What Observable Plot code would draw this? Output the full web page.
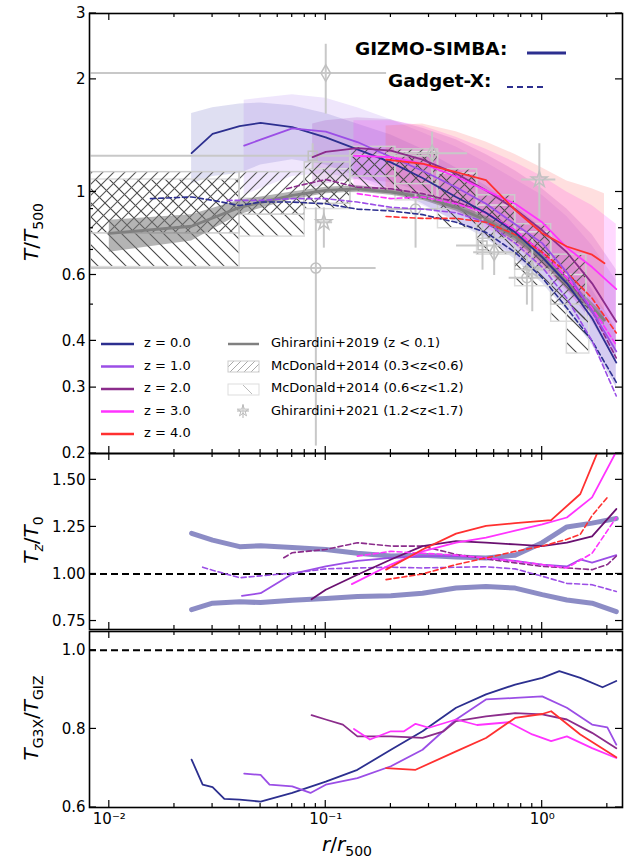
<!DOCTYPE html>
<html><head><meta charset="utf-8">
<script src="https://cdn.jsdelivr.net/npm/d3@7"></script>
<script src="https://cdn.jsdelivr.net/npm/@observablehq/plot@0.6"></script>
<style>
body{margin:0;background:#fff;font-family:"DejaVu Sans",sans-serif}
#c{position:relative;width:626px;height:864px}
#c svg{position:absolute;left:0;overflow:visible}
.t{position:absolute;white-space:nowrap;color:#000}
.lg{font-size:13px}
.yl{font-size:20px;transform:translate(-50%,-50%) rotate(-90deg);}
</style></head><body><div id="c"></div>
<script>
const colors=["#2c2f8f","#9b4ee6","#8b2c8b","#ff33ff","#ff3030"];
const bandColors=["#6060c0","#b080f0","#a040c0","#ff40ff","#ff6060"];
// top panel: GIZMO-SIMBA (solid) with bands
const gR=[[0.024,0.03,0.04,0.05,0.07,0.1,0.14,0.2,0.28,0.4,0.55,0.75,1,1.3,1.7,2.2],
[0.042,0.05,0.07,0.1,0.14,0.2,0.28,0.4,0.55,0.75,1,1.3,1.7,2.2],
[0.087,0.1,0.14,0.2,0.28,0.4,0.55,0.75,1,1.3,1.7,2.2],
[0.135,0.2,0.28,0.4,0.55,0.75,1,1.3,1.7,2.2],
[0.19,0.28,0.4,0.55,0.75,1,1.3,1.7,1.94]];
const gT=[[1.27,1.43,1.50,1.53,1.49,1.40,1.30,1.20,1.09,0.97,0.88,0.78,0.67,0.57,0.46,0.35],
[1.33,1.38,1.48,1.45,1.36,1.24,1.14,1.03,0.93,0.82,0.73,0.61,0.48,0.375],
[1.24,1.28,1.31,1.29,1.22,1.12,1.01,0.90,0.79,0.69,0.57,0.45],
[1.25,1.24,1.19,1.10,1.01,0.93,0.83,0.71,0.63,0.55],
[1.22,1.19,1.13,1.076,0.895,0.776,0.715,0.68,0.645]];
const gHi=[[1.62,1.68,1.72,1.73,1.70,1.62,1.52,1.42,1.30,1.16,1.04,0.92,0.80,0.68,0.55,0.43],
[1.76,1.78,1.82,1.78,1.68,1.56,1.44,1.32,1.20,1.08,0.98,0.86,0.72,0.58],
[1.52,1.55,1.58,1.56,1.48,1.38,1.26,1.14,1.02,0.90,0.77,0.62],
[1.55,1.55,1.50,1.40,1.30,1.20,1.10,1.00,0.92,0.82],
[1.50,1.52,1.45,1.36,1.26,1.16,1.07,1.02,0.99]];
const gLo=[[1.05,1.10,1.12,1.18,1.22,1.18,1.10,1.02,0.93,0.83,0.75,0.66,0.57,0.48,0.39,0.30],
[0.98,1.02,1.10,1.12,1.08,1.00,0.92,0.84,0.76,0.67,0.59,0.50,0.40,0.30],
[1.02,1.05,1.08,1.06,1.00,0.92,0.83,0.74,0.64,0.55,0.45,0.35],
[1.02,1.00,0.96,0.88,0.80,0.73,0.64,0.54,0.46,0.38],
[1.00,0.99,0.92,0.83,0.72,0.62,0.56,0.52,0.48]];
// Gadget-X (dashed)
const xR=[[0.0155,0.024,0.03,0.04,0.05,0.07,0.1,0.14,0.2,0.28,0.4,0.55,0.75,1,1.3,1.7,2.2],
[0.035,0.05,0.07,0.1,0.14,0.2,0.28,0.4,0.55,0.75,1,1.3,1.7,2.2],
[0.066,0.07,0.1,0.14,0.2,0.28,0.4,0.55,0.75,1,1.3,1.7,2.2],
[0.14,0.2,0.28,0.4,0.55,0.75,1,1.3,1.7,2.2],
[0.19,0.28,0.4,0.55,0.75,1,1.3,1.7,2.2]];
const xT=[[0.96,0.97,0.95,0.92,0.94,0.94,0.93,0.90,0.89,0.87,0.83,0.78,0.69,0.59,0.49,0.40,0.31],
[0.95,0.95,0.96,0.96,0.94,0.91,0.90,0.88,0.83,0.73,0.63,0.52,0.40,0.285],
[1.02,1.03,1.08,1.03,1.02,0.99,0.94,0.88,0.79,0.69,0.59,0.48,0.36],
[0.99,0.96,0.97,0.93,0.88,0.79,0.69,0.59,0.49,0.39],
[0.86,0.85,0.85,0.83,0.77,0.69,0.61,0.52,0.42]];
// Ghirardini+2019
const ghR=[0.01,0.024,0.04,0.07,0.1,0.14,0.2,0.28,0.4,0.55,0.75,1,1.3,1.94];
const ghT=[0.775,0.81,0.91,0.98,1.01,1.02,1.0,0.97,0.91,0.84,0.76,0.67,0.57,0.455];
const ghLo=[0.69,0.74,0.87,0.955,0.99,1.0,0.98,0.95,0.89,0.82,0.74,0.65,0.55,0.44];
const ghHi=[0.84,0.87,0.95,1.0,1.03,1.04,1.02,0.99,0.93,0.86,0.78,0.69,0.59,0.47];
// McDonald+2014 boxes [r1,r2,T1,T2]
const mcA=[[0.0082,0.040,0.775,1.13],[0.040,0.080,0.87,1.13],[0.080,0.13,0.93,1.20],[0.13,0.21,1.10,1.32],[0.21,0.33,1.05,1.30],[0.33,0.5,0.90,1.15],[0.5,0.75,0.75,0.98],[0.75,1.1,0.62,0.82],[1.1,1.6,0.5,0.68]];
const mcB=[[0.0082,0.040,0.63,1.08],[0.040,0.080,0.76,0.96],[0.080,0.13,0.90,1.15],[0.13,0.21,1.0,1.25],[0.21,0.33,0.95,1.28],[0.33,0.5,0.80,1.12],[0.5,0.75,0.68,0.92],[0.75,1.1,0.56,0.78],[1.1,1.6,0.45,0.60],[1.3,1.65,0.37,0.50]];
// Ghirardini+2021 [symbol,r,T,rlo,rhi,Tlo,Thi]
const gh21=[["diamond",0.1,2.08,0.0082,0.19,1.62,2.49],["square",0.087,1.25,0.0082,0.3,1.15,1.35],["circle",0.09,0.626,0.0082,0.17,0.21,0.91],["star",0.098,0.83,0.09,0.107,0.71,0.91],["circle",0.26,0.90,0.19,0.33,0.71,1.0],["diamond",0.31,1.27,0.19,0.45,0.95,1.45],["star",0.97,1.08,0.8,1.15,0.85,1.35],["diamond",0.6,0.69,0.48,0.75,0.6,0.8],["square",0.53,0.72,0.4,0.65,0.62,0.85],["circle",0.85,0.59,0.7,1.0,0.5,0.68],["star",0.9,0.62,0.8,1.05,0.48,0.75]];
// middle panel Tz/T0
const envR=[0.024,0.03,0.04,0.05,0.07,0.1,0.14,0.2,0.28,0.4,0.55,0.75,1,1.3,1.7,2.2];
const envHi=[1.216,1.18,1.145,1.15,1.14,1.13,1.11,1.095,1.10,1.09,1.085,1.10,1.166,1.25,1.27,1.295];
const envLo=[0.81,0.845,0.853,0.848,0.86,0.87,0.88,0.884,0.898,0.925,0.934,0.925,0.89,0.862,0.845,0.80];
const mR=[null,[0.041,0.05,0.07,0.1,0.14,0.2,0.28,0.4,0.55,0.75,1,1.3,1.5,1.7,2.2],
[0.086,0.1,0.14,0.2,0.28,0.4,0.55,0.75,1,1.3,1.7,2.2],
[0.132,0.2,0.28,0.4,0.55,0.75,1,1.3,1.7,2.2],
[0.19,0.28,0.4,0.55,0.75,1,1.1,1.5,1.8]];
const mV=[null,[0.884,0.898,1.0,1.04,1.07,1.085,1.095,1.095,1.085,1.07,1.05,1.04,1.077,1.06,1.10],
[0.866,0.916,0.996,1.077,1.148,1.175,1.166,1.157,1.148,1.166,1.20,1.345],
[0.946,1.05,1.12,1.166,1.193,1.23,1.264,1.30,1.407,1.65],
[1.023,1.13,1.214,1.255,1.27,1.282,1.286,1.425,1.645]];
const mdR=[null,[0.027,0.03,0.04,0.05,0.07,0.1,0.14,0.2,0.28,0.4,0.55,0.75,1,1.3,1.7,2.2],
[0.064,0.07,0.1,0.14,0.2,0.28,0.4,0.55,0.75,1,1.3,1.7,2.0,2.2],
[0.14,0.2,0.28,0.4,0.55,0.75,1,1.3,1.7,2.2],
[0.19,0.28,0.4,0.55,0.75,1,1.3,1.5,1.7,2.0]];
const mdV=[null,[1.036,1.02,0.98,0.99,1.005,1.027,1.032,1.036,1.032,1.036,1.038,1.027,0.988,0.95,0.943,0.907],
[1.086,1.113,1.13,1.166,1.148,1.148,1.104,1.08,1.059,1.04,1.032,1.023,1.05,1.095],
[1.095,1.12,1.11,1.10,1.085,1.068,1.05,1.032,1.11,1.30],
[0.97,1.0,1.05,1.085,1.12,1.148,1.184,1.21,1.31,1.407]];
// bottom panel TG3X/TGIZ
const bR=[[0.024,0.027,0.03,0.034,0.04,0.05,0.07,0.1,0.14,0.2,0.28,0.4,0.55,0.75,1.0,1.2,1.5,1.9,2.2],
[0.042,0.05,0.055,0.07,0.085,0.1,0.14,0.2,0.28,0.4,0.55,0.75,1.0,1.3,1.7,2.0,2.2],
[0.086,0.1,0.12,0.14,0.2,0.28,0.35,0.4,0.55,0.75,1.0,1.3,1.7,2.2],
[0.135,0.16,0.2,0.23,0.26,0.3,0.4,0.5,0.7,0.9,1.1,1.3,1.7,2.2],
[0.19,0.26,0.4,0.55,0.75,1.0,1.1,1.5,2.2]];
const bV=[[0.722,0.658,0.652,0.622,0.62,0.615,0.637,0.666,0.696,0.747,0.794,0.854,0.888,0.913,0.93,0.947,0.93,0.906,0.922],
[0.686,0.683,0.658,0.654,0.637,0.658,0.675,0.705,0.747,0.824,0.875,0.879,0.883,0.854,0.811,0.804,0.76],
[0.835,0.824,0.811,0.781,0.781,0.777,0.794,0.82,0.832,0.84,0.837,0.824,0.79,0.751],
[0.80,0.773,0.794,0.794,0.813,0.803,0.824,0.81,0.817,0.786,0.769,0.781,0.751,0.726],
[0.70,0.696,0.743,0.777,0.828,0.838,0.845,0.786,0.728]];
const zLabels=["z = 0.0","z = 1.0","z = 2.0","z = 3.0","z = 4.0"];

const rows=(rs,vs,extra={})=>rs.map((r,i)=>({r,v:vs[i],...extra}));
const X={type:"log",domain:[0.0081,2.35]};
const W=626,ML=89,MR=4;
const sup={"-":"⁻","0":"⁰","1":"¹","2":"²"};
const xfmt=d=>"10"+String(Math.round(Math.log10(d))).split("").map(c=>sup[c]).join("");
const xMaj=[0.01,0.1,1], xMin=[];
for(const b of [0.01,0.1,1]) for(let k=2;k<=9;k++){ if(b*k<2.35) xMin.push(b*k);}
function axes(yMaj,yfmt,showX){
  const o={label:null,tickSize:0};
  const m=[Plot.axisY(yMaj,{...o,anchor:"left",tickPadding:4,tickFormat:yfmt,fontSize:15}),
    Plot.frame({stroke:"#000",strokeWidth:1.6})];
  if(showX) m.push(Plot.axisX(xMaj,{...o,anchor:"bottom",tickPadding:6,tickFormat:xfmt,fontSize:15}));
  return m;
}
// inward ticks drawn from the plot's own scales
function ticks(p,yMaj,yMin){
  const sx=p.scale("x"), sy=p.scale("y");
  const [x0,x1]=sx.range, [y0,y1]=sy.range;
  const g=d3.select(p).append("g").attr("stroke","#000").attr("stroke-width",1.2);
  const add=(a,b,c,d)=>g.append("line").attr("x1",a).attr("y1",b).attr("x2",c).attr("y2",d);
  xMaj.forEach(v=>{const x=sx.apply(v);add(x,y0,x,y0-7);add(x,y1,x,y1+7);});
  xMin.forEach(v=>{const x=sx.apply(v);add(x,y0,x,y0-4);add(x,y1,x,y1+4);});
  yMaj.forEach(v=>{const y=sy.apply(v);add(x0,y,x0+7,y);add(x1,y,x1-7,y);});
  yMin.forEach(v=>{const y=sy.apply(v);add(x0,y,x0+4,y);add(x1,y,x1-4,y);});
}
const c=document.getElementById("c");
const XN={...X,axis:null};
// ---------- top
const topMarks=[];
gR.forEach((rs,i)=>topMarks.push(Plot.areaY(rs.map((r,j)=>({r,lo:gLo[i][j],hi:gHi[i][j]})),{x:"r",y1:"lo",y2:"hi",fill:bandColors[i],fillOpacity:0.2,curve:"linear"})));
topMarks.push(Plot.rect(mcB.map(d=>({x1:d[0],x2:d[1],y1:d[2],y2:d[3]})),{x1:"x1",x2:"x2",y1:"y1",y2:"y2",fill:"none",stroke:"#ddd",strokeWidth:1.5,className:"hB"}));
topMarks.push(Plot.rect(mcA.map(d=>({x1:d[0],x2:d[1],y1:d[2],y2:d[3]})),{x1:"x1",x2:"x2",y1:"y1",y2:"y2",fill:"none",stroke:"#ccc",strokeWidth:1.5,className:"hA"}));
topMarks.push(Plot.areaY(ghR.map((r,j)=>({r,lo:ghLo[j],hi:ghHi[j]})),{x:"r",y1:"lo",y2:"hi",fill:"#777",fillOpacity:0.55}));
topMarks.push(Plot.line(rows(ghR,ghT),{x:"r",y:"v",stroke:"#808080",strokeWidth:2.8}));
const g21=gh21.map(d=>({s:d[0],r:d[1],T:d[2],rl:d[3],rh:d[4],Tl:d[5],Th:d[6]}));
topMarks.push(Plot.link(g21,{x1:"rl",x2:"rh",y1:"T",y2:"T",stroke:"#c8c8c8",strokeWidth:2}));
topMarks.push(Plot.link(g21,{x1:"r",x2:"r",y1:"Tl",y2:"Th",stroke:"#c8c8c8",strokeWidth:2}));
for(const s of ["diamond","square","circle","star"])
  topMarks.push(Plot.dot(g21.filter(d=>d.s===s),{x:"r",y:"T",symbol:s,r:5,stroke:"#c0c0c0",fill:"none",strokeWidth:1.5}));
xR.forEach((rs,i)=>topMarks.push(Plot.line(rows(rs,xT[i]),{x:"r",y:"v",stroke:colors[i],strokeWidth:1.6,strokeDasharray:"5,3"})));
gR.forEach((rs,i)=>topMarks.push(Plot.line(rows(rs,gT[i]),{x:"r",y:"v",stroke:colors[i],strokeWidth:1.8})));
const yT1=[0.2,0.3,0.4,0.6,1,2,3];
const p1=Plot.plot({width:W,height:455,marginTop:13,marginBottom:2,marginLeft:ML,marginRight:MR,
  style:{fontFamily:"DejaVu Sans",fontSize:"15px",background:"transparent"},
  x:XN,y:{type:"log",domain:[0.2,3]},
  marks:[...topMarks,...axes(yT1,d=>String(d),false)]});
p1.style.top="0px";
ticks(p1,yT1,[0.5,0.7,0.8,0.9]);
const defs=d3.select(p1).insert("defs",":first-child");
defs.append("pattern").attr("id","pA").attr("patternUnits","userSpaceOnUse").attr("width",11).attr("height",11)
 .append("path").attr("d","M0,11L11,0M-3,3L3,-3M8,14L14,8").attr("stroke","#555").attr("stroke-width",1.1);
defs.append("pattern").attr("id","pB").attr("patternUnits","userSpaceOnUse").attr("width",14).attr("height",14)
 .append("path").attr("d","M0,0L14,14M-4,10L4,18M10,-4L18,4").attr("stroke","#444").attr("stroke-width",1.1);
d3.select(p1).selectAll(".hA rect").attr("fill","url(#pA)");
d3.select(p1).selectAll(".hB rect").attr("fill","url(#pB)");
c.appendChild(p1);
// ---------- middle
const mid=[Plot.ruleY([1],{stroke:"#000",strokeWidth:2,strokeDasharray:"7,4"}),
 Plot.line(rows(envR,envHi),{x:"r",y:"v",stroke:"#7878bb",strokeOpacity:0.85,strokeWidth:5}),
 Plot.line(rows(envR,envLo),{x:"r",y:"v",stroke:"#7878bb",strokeOpacity:0.85,strokeWidth:5})];
for(let i=1;i<5;i++){
  mid.push(Plot.line(rows(mdR[i],mdV[i]),{x:"r",y:"v",stroke:colors[i],strokeWidth:1.6,strokeDasharray:"5,3",clip:true}));
  mid.push(Plot.line(rows(mR[i],mV[i]),{x:"r",y:"v",stroke:i==2?"#6a1070":colors[i],strokeWidth:1.8,clip:true}));
}
const yT2=[0.75,1,1.25,1.5];
const p2=Plot.plot({width:W,height:180,marginTop:2,marginBottom:2,marginLeft:ML,marginRight:MR,
  style:{fontFamily:"DejaVu Sans",fontSize:"15px",background:"transparent"},
  x:XN,y:{domain:[0.705,1.64]},
  marks:[...mid,...axes(yT2,d3.format(".2f"),false)]});
p2.style.top="451px"; ticks(p2,yT2,[]); c.appendChild(p2);
// ---------- bottom
const bot=[Plot.ruleY([1],{stroke:"#000",strokeWidth:2,strokeDasharray:"7,4"})];
bR.forEach((rs,i)=>bot.push(Plot.line(rows(rs,bV[i]),{x:"r",y:"v",stroke:colors[i],strokeWidth:1.8})));
const yT3=[0.6,0.8,1.0];
const p3=Plot.plot({width:W,height:235,marginTop:2,marginBottom:57,marginLeft:ML,marginRight:MR,
  style:{fontFamily:"DejaVu Sans",fontSize:"15px",background:"transparent"},
  x:X,y:{domain:[0.6,1.048]},
  marks:[...bot,...axes(yT3,d3.format(".1f"),true)]});
p3.style.top="629px"; ticks(p3,yT3,[]); c.appendChild(p3);
// ---------- text & legend
function t(html,x,y,cls,style=""){const d=document.createElement("div");d.className="t "+cls;d.innerHTML=html;d.style.left=x+"px";d.style.top=y+"px";d.style.cssText+=style;c.appendChild(d);}
t("<i>T</i>/<i>T</i><sub style='font-size:14px'>500</sub>",32,232,"yl");
t("<i>T<sub style='font-size:14px'>z</sub></i>/<i>T</i><sub style='font-size:14px'>0</sub>",32,540,"yl");
t("<i>T</i><sub style='font-size:14px'>G3X</sub>/<i>T</i><sub style='font-size:14px'>GIZ</sub>",32,718,"yl");
t("<i>r</i>/<i>r</i><sub style='font-size:14px'>500</sub>",322,832,"","font-size:20px");
t("<b>GIZMO-SIMBA:</b>",355,38,"","font-size:18.5px");
t("<b>Gadget-X:</b>",388,70,"","font-size:18.5px");
const sv=d3.select(c).append("svg").attr("width",626).attr("height",864).style("top","0px").style("pointer-events","none");
sv.append("line").attr("x1",527).attr("x2",566).attr("y1",53).attr("y2",53).attr("stroke",colors[0]).attr("stroke-width",3);
sv.append("line").attr("x1",507).attr("x2",543).attr("y1",87).attr("y2",87).attr("stroke",colors[0]).attr("stroke-width",2).attr("stroke-dasharray","6,4");
zLabels.forEach((s,i)=>{const y=344+i*22.5;
  sv.append("line").attr("x1",101).attr("x2",134).attr("y1",y).attr("y2",y).attr("stroke",colors[i]).attr("stroke-width",2.5);
  t(s,144,y-9,"lg");});
const l2=["Ghirardini+2019 (z &lt; 0.1)","McDonald+2014 (0.3&lt;z&lt;0.6)","McDonald+2014 (0.6&lt;z&lt;1.2)","Ghirardini+2021 (1.2&lt;z&lt;1.7)"];
l2.forEach((s,i)=>{const y=344+i*22.5; t(s,271,y-9,"lg");});
sv.append("line").attr("x1",228).attr("x2",259).attr("y1",344).attr("y2",344).attr("stroke","#808080").attr("stroke-width",2.5);
const lp=sv.append("defs");
lp.append("pattern").attr("id","lA").attr("patternUnits","userSpaceOnUse").attr("width",7).attr("height",7)
 .append("path").attr("d","M0,7L7,0").attr("stroke","#aaa").attr("stroke-width",1);
sv.append("rect").attr("x",228).attr("y",361).attr("width",31).attr("height",11).attr("fill","url(#lA)").attr("stroke","#ccc");
sv.append("rect").attr("x",228).attr("y",384).attr("width",31).attr("height",11).attr("fill","none").attr("stroke","#ddd");
sv.append("line").attr("x1",243).attr("x2",252).attr("y1",385).attr("y2",394).attr("stroke","#bbb");
sv.append("line").attr("x1",243).attr("x2",243).attr("y1",404).attr("y2",418).attr("stroke","#ccc").attr("stroke-width",1.5);
sv.append("line").attr("x1",237).attr("x2",249).attr("y1",411).attr("y2",411).attr("stroke","#ccc").attr("stroke-width",1.5);
sv.append("path").attr("d",d3.symbol(d3.symbolStar,40)()).attr("transform","translate(243,411)").attr("fill","none").attr("stroke","#bbb");
</script></body></html>
